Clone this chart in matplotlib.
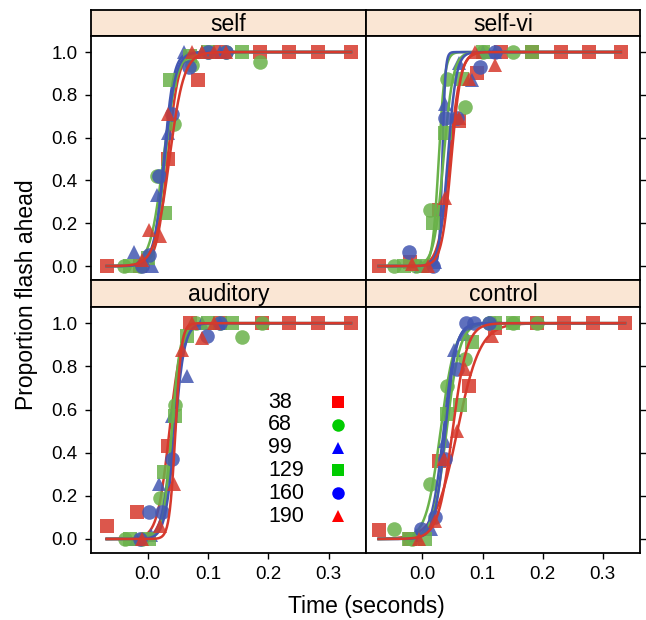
import numpy as np
import matplotlib
matplotlib.use("Agg")
import matplotlib.pyplot as plt

plt.rcParams['font.family'] = ['Liberation Sans', 'DejaVu Sans']

panels = ["self", "self-vi", "auditory", "control"]
durations = ["38", "68", "99", "129", "160", "190"]

# x (seconds) and proportion for each duration series, per panel
self_x = [[-0.068, -0.013, 0.033, 0.083, 0.12, 0.187, 0.235, 0.283, 0.337],
          [-0.04, -0.013, 0.015, 0.043, 0.073, 0.1, 0.13, 0.187],
          [-0.023, 0.007, 0.015, 0.033, 0.06, 0.09, 0.12],
          [-0.03, 0.0, 0.028, 0.037, 0.07, 0.1, 0.157],
          [-0.01, 0.003, 0.018, 0.04, 0.068, 0.1, 0.13],
          [-0.01, 0.002, 0.02, 0.033, 0.073, 0.09, 0.11, 0.13]]
self_y = [[0, 0, 0.50, 0.87, 1, 1, 1, 1, 1],
          [0, 0, 0.42, 0.665, 0.94, 1, 1, 0.955],
          [0.065, 0, 0.33, 0.62, 1, 1, 1],
          [0, 0.04, 0.25, 0.87, 0.98, 1, 1],
          [0, 0.05, 0.42, 0.71, 0.93, 1, 1],
          [0.03, 0.17, 0.14, 0.71, 1, 1, 1, 1]]
# fitted logistic curves: midpoint and scale (s)
self_mid = [0.033, 0.026, 0.027, 0.029, 0.028, 0.036]
self_scale = [0.009, 0.011, 0.008, 0.009, 0.009, 0.012]

selfvi_x = [[-0.073, -0.02, 0.027, 0.06, 0.09, 0.13, 0.183, 0.23, 0.277, 0.33],
            [-0.047, -0.01, 0.012, 0.04, 0.07, 0.1, 0.15],
            [-0.002, 0.02, 0.037, 0.06, 0.082, 0.1, 0.12],
            [-0.03, 0.0, 0.018, 0.037, 0.065, 0.1, 0.183],
            [-0.022, 0.018, 0.037, 0.057, 0.095, 0.12],
            [-0.018, 0.01, 0.037, 0.06, 0.077, 0.087, 0.12]]
selfvi_y = [[0, 0.02, 0.26, 0.68, 0.9, 1, 1, 1, 1, 1],
            [0, 0, 0.26, 0.875, 0.745, 1, 1],
            [0, 0.02, 0.755, 0.95, 0.87, 1, 1],
            [0, 0, 0.2, 0.62, 0.875, 1, 1],
            [0.065, 0, 0.69, 0.69, 0.93, 1],
            [0.01, 0.0, 0.32, 0.69, 0.875, 1, 0.94]]
selfvi_mid = [0.045, 0.027, 0.033, 0.035, 0.042, 0.048]
selfvi_scale = [0.009, 0.005, 0.0025, 0.008, 0.007, 0.008]

aud_x = [[-0.068, -0.018, 0.033, 0.07, 0.12, 0.19, 0.235, 0.283, 0.337],
         [-0.038, -0.01, 0.02, 0.045, 0.08, 0.12, 0.157, 0.19],
         [-0.02, 0.005, 0.018, 0.04, 0.065, 0.09, 0.12],
         [-0.03, 0.003, 0.027, 0.045, 0.065, 0.1, 0.14],
         [-0.013, 0.003, 0.023, 0.04, 0.098, 0.12],
         [-0.01, 0.02, 0.043, 0.057, 0.073, 0.09, 0.11]]
aud_y = [[0.06, 0.125, 0.43, 1.0, 1, 1, 1, 1, 1],
         [0, 0, 0.19, 0.62, 1, 1, 0.935, 1],
         [0, 0.02, 0.255, 0.57, 0.755, 1, 1],
         [0, 0, 0.31, 0.57, 0.94, 1, 1],
         [0, 0.125, 0.125, 0.37, 0.94, 1],
         [0, 0.06, 0.255, 0.875, 1, 0.93, 1]]
aud_mid = [0.036, 0.040, 0.042, 0.040, 0.045, 0.046]
aud_scale = [0.010, 0.008, 0.009, 0.007, 0.008, 0.005]

ctrl_x = [[-0.073, -0.02, 0.027, 0.078, 0.12, 0.19, 0.235, 0.283, 0.337],
          [-0.047, -0.018, 0.012, 0.04, 0.07, 0.11, 0.15, 0.19],
          [-0.01, 0.015, 0.037, 0.053, 0.07, 0.12],
          [-0.022, 0.005, 0.04, 0.062, 0.082, 0.12, 0.15],
          [-0.002, 0.02, 0.037, 0.057, 0.073, 0.085, 0.11],
          [-0.005, 0.02, 0.035, 0.057, 0.07, 0.115]]
ctrl_y = [[0.04, 0.0, 0.36, 0.71, 0.98, 1, 1, 1, 1],
          [0.045, 0, 0.255, 0.71, 0.835, 1, 1, 1],
          [0.02, 0.045, 0.455, 0.875, 0.95, 1],
          [0, 0.0, 0.58, 0.62, 0.915, 1, 1],
          [0.045, 0.1, 0.37, 0.79, 1, 1, 1],
          [0.0, 0.085, 0.37, 0.50, 0.79, 0.94]]
ctrl_mid = [0.058, 0.030, 0.035, 0.040, 0.038, 0.050]
ctrl_scale = [0.019, 0.012, 0.010, 0.011, 0.009, 0.012]

xticks = [0.0, 0.1, 0.2, 0.3]
yticks = [0.0, 0.2, 0.4, 0.6, 0.8, 1.0]

plot_colors = ['#D6392C', '#6AB24A', '#4357B2', '#6AB24A', '#4357B2', '#D6392C']
key_colors = ['#FF0000', '#00CC00', '#0000FF', '#00CC00', '#0000FF', '#FF0000']
markers = ['s', 'o', '^', 's', 'o', '^']
msize = {'s': 9.5, 'o': 10.5, '^': 10.5}

W, H = 646, 620
fig = plt.figure(figsize=(W / 100, H / 100), dpi=100)

def fr(x0, y0, x1, y1):
    return [x0 / W, 1 - y1 / H, (x1 - x0) / W, (y1 - y0) / H]

cols = [(91, 366), (366, 640)]
rows = [((10, 36), (36, 280)), ((280, 307), (307, 553))]

data = [(self_x, self_y, self_mid, self_scale),
        (selfvi_x, selfvi_y, selfvi_mid, selfvi_scale),
        (aud_x, aud_y, aud_mid, aud_scale),
        (ctrl_x, ctrl_y, ctrl_mid, ctrl_scale)]
XLIM = (-0.094, 0.362)
YLIM = (-0.065, 1.075)

axes = []
for k, name in enumerate(panels):
    r, c = divmod(k, 2)
    (sy0, sy1), (py0, py1) = rows[r]
    x0, x1 = cols[c]
    sax = fig.add_axes(fr(x0, sy0, x1, sy1))
    sax.set_facecolor('#FAE6D4')
    sax.set_xticks([]); sax.set_yticks([])
    for sp in sax.spines.values():
        sp.set_linewidth(1.3)
    sax.text(0.5, 0.45, name, ha='center', va='center', fontsize=16.5,
             transform=sax.transAxes)
    ax = fig.add_axes(fr(x0, py0, x1, py1))
    axes.append(ax)
    xs_all, ys_all, mids, scales = data[k]
    lo = min(min(v) for v in xs_all)
    hi = max(max(v) for v in xs_all)
    grid = np.linspace(lo, hi, 500)
    for j in range(6):
        xs, ys = xs_all[j], ys_all[j]
        ax.plot(xs, ys, linestyle='none', marker=markers[j], color=plot_colors[j],
                markersize=msize[markers[j]], alpha=0.85,
                markeredgewidth=0, zorder=2 + j)
        ax.plot(grid, 1.0 / (1.0 + np.exp(-(grid - mids[j]) / scales[j])),
                color=plot_colors[j], lw=1.8, zorder=2 + j)
    ax.set_xlim(*XLIM)
    ax.set_ylim(*YLIM)
    for sp in ax.spines.values():
        sp.set_linewidth(1.3)
    ax.set_xticks(xticks)
    ax.set_yticks(yticks)
    ax.tick_params(direction='out', length=4.5, width=1, labelsize=13.5, pad=5)
    ax.tick_params(axis='x', bottom=(r == 1), labelbottom=(r == 1), top=False)
    ax.tick_params(axis='y', left=(c == 0), labelleft=(c == 0),
                   right=(c == 1), labelright=False)
    ax.xaxis.set_major_formatter(matplotlib.ticker.FormatStrFormatter('%.1f'))
    ax.yaxis.set_major_formatter(matplotlib.ticker.FormatStrFormatter('%.1f'))

# key inside auditory panel
key_y0 = 402
for j, lab in enumerate(durations):
    yy = key_y0 + j * 22.8
    fig.text(268 / W, 1 - yy / H, lab, ha='left', va='center', fontsize=15.5)
    fig.add_artist(matplotlib.lines.Line2D([338 / W], [1 - yy / H], marker=markers[j],
                                           color=key_colors[j],
                                           markersize=9 if markers[j] != 's' else 8,
                                           linestyle='none', markeredgewidth=0,
                                           transform=fig.transFigure))

fig.text(366 / W, 1 - 607 / H, 'Time (seconds)', ha='center', va='center', fontsize=16.5)
fig.text(27 / W, 1 - 295 / H, 'Proportion flash ahead', ha='center', va='center',
         fontsize=16.5, rotation=90)

fig.savefig('out.png', dpi=100)
